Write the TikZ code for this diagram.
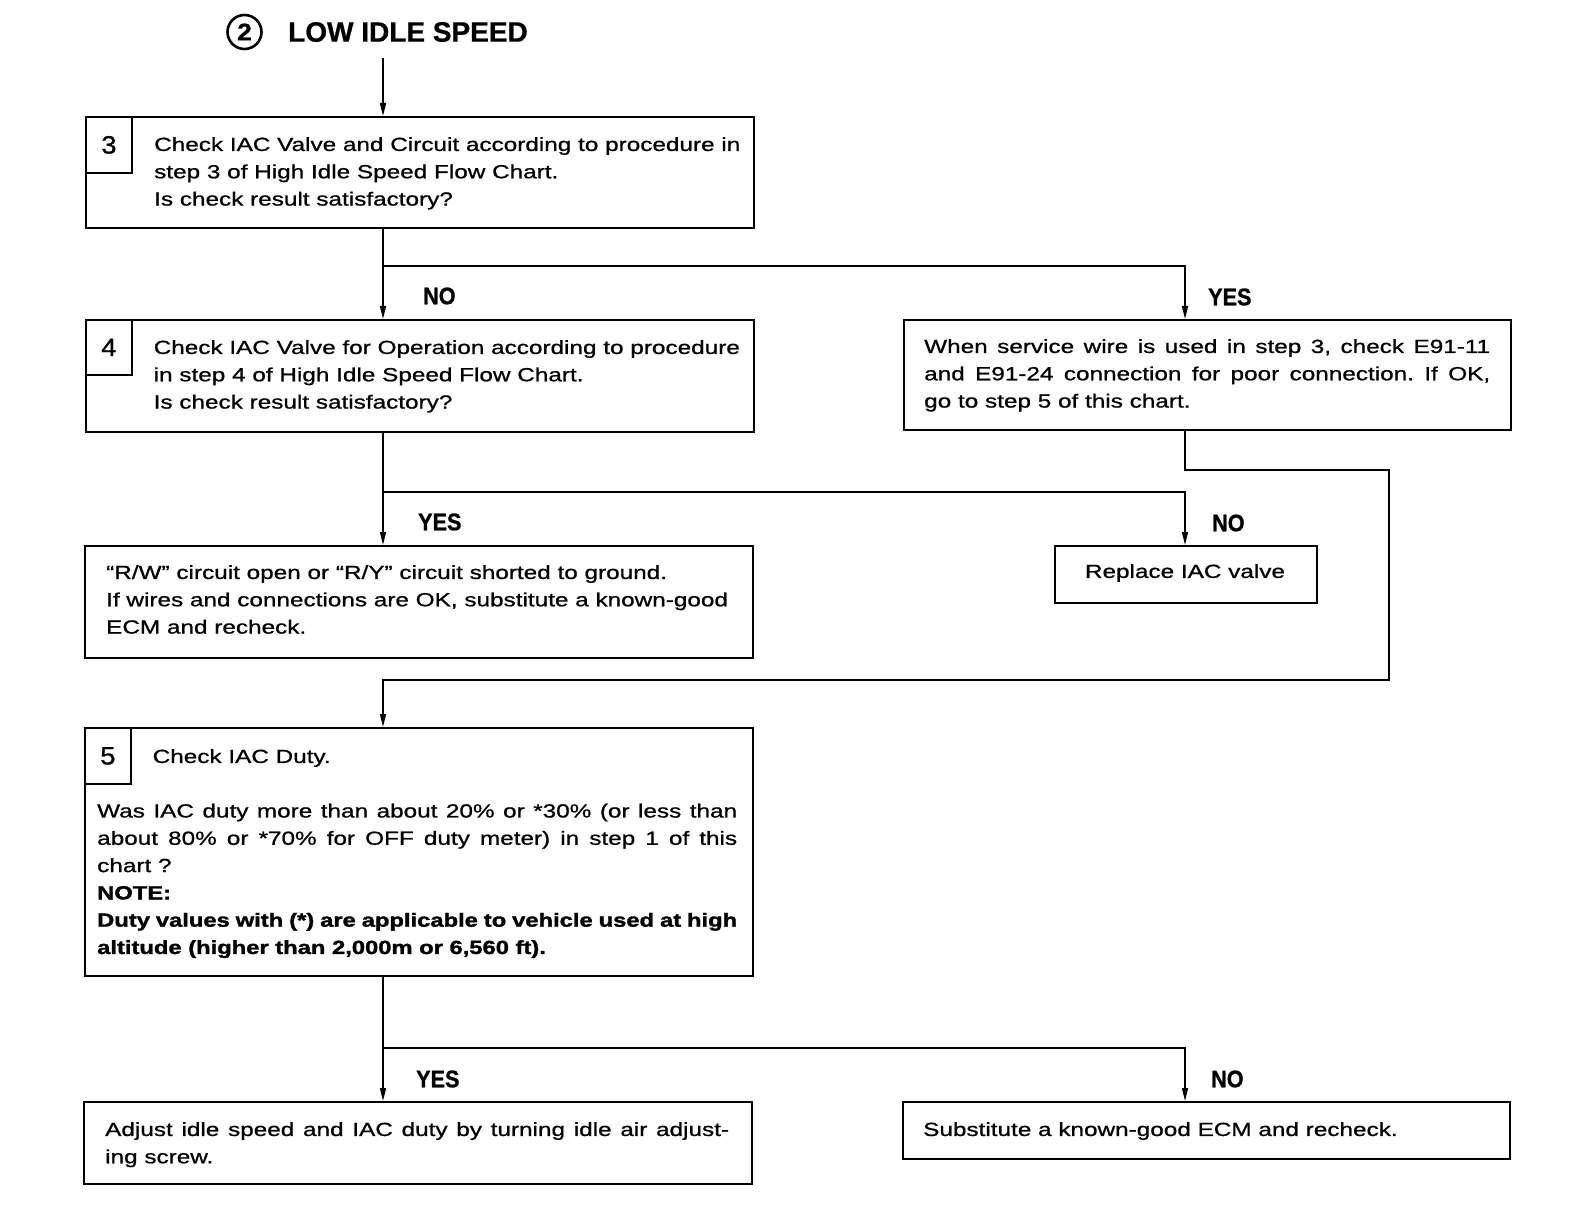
\documentclass[tikz,border=0pt]{standalone}
\usepackage{fontspec}
\setmainfont{Liberation Sans}
\newfontfamily\bodyf[FakeStretch=1.28,FakeBold=0.9,BoldFeatures={FakeStretch=1.25,FakeBold=1.6}]{Liberation Sans}
\newfontfamily\labf[FakeStretch=0.9,BoldFeatures={FakeBold=1}]{Liberation Sans}
\newfontfamily\numf[FakeStretch=1.1,FakeBold=1]{Liberation Sans}
\newfontfamily\titf[BoldFeatures={FakeBold=0.8}]{Liberation Sans}
\usetikzlibrary{arrows.meta}
\newcommand{\jl}[2]{\makebox[#1][s]{#2}}
\frenchspacing
\tikzset{
 box/.style={draw, line width=1.8pt, rectangle, inner sep=0pt, anchor=north west},
 numbox/.style={box, minimum width=46pt, minimum height=56pt, font=\numf\fontsize{25}{28}\selectfont},
 txt/.style={inner sep=0pt, anchor=north west, align=left, font=\bodyf\fontsize{19}{27.3}\selectfont},
 lab/.style={inner sep=0pt, anchor=west, font=\labf\bfseries\fontsize{24}{26}\selectfont},
 conn/.style={line width=1.6pt},
 arr/.style={conn, -{Triangle[width=6pt,length=13pt]}},
}
\begin{document}
\frenchspacing
\begin{tikzpicture}[x=1pt,y=-1pt]
\useasboundingbox[fill=white] (0,0) rectangle (1584,1214);
% title
\node[circle, draw, line width=2.6pt, minimum size=34pt, inner sep=0pt, font=\numf\bfseries\fontsize{24}{26}\selectfont] (c2) at (244.5,32) {2};
\node[font=\titf\bfseries\fontsize{28}{32}\selectfont, anchor=west, inner sep=0pt] (title) at (288,32) {LOW IDLE SPEED};
\coordinate (tx) at (383,0);
\coordinate (rx) at (1185,0);
\coordinate (t0) at (383,58);
% boxes
\node[box, minimum width=668pt, minimum height=111pt] (b3) at (85,116) {};
\node[numbox] (n3) at (85,116) {3};
\node[txt] (t3) at (154,137) {Check IAC Valve and Circuit according to procedure in\\ step 3 of High Idle Speed Flow Chart.\\ Is check result satisfactory?};

\node[box, minimum width=668pt, minimum height=112pt] (b4) at (85,319) {};
\node[numbox, minimum height=55pt] (n4) at (85,319) {4};
\node[txt] (t4) at (153.5,340) {Check IAC Valve for Operation according to procedure\\ in step 4 of High Idle Speed Flow Chart.\\ Is check result satisfactory?};

\node[box, minimum width=607pt, minimum height=110pt] (by) at (903,319) {};
\node[txt] (ty) at (924,339) {\jl{566pt}{When service wire is used in step 3, check E91-11}\\ \jl{566pt}{and E91-24 connection for poor connection. If OK,}\\ go to step 5 of this chart.};

\node[box, minimum width=668pt, minimum height=112pt] (brw) at (84,545) {};
\node[txt] (trw) at (106,565) {“R/W” circuit open or “R/Y” circuit shorted to ground.\\ If wires and connections are OK, substitute a known-good\\ ECM and recheck.};

\node[box, minimum width=262pt, minimum height=57pt] (brep) at (1054,545) {};
\node[txt, anchor=center] (trep) at (1185,573) {Replace IAC valve};

\node[box, minimum width=668pt, minimum height=248pt] (b5) at (84,727) {};
\node[numbox] (n5) at (84,727) {5};
\node[txt] (t5a) at (152.5,749) {Check IAC Duty.};
\node[txt] (t5b) at (97,803.5) {\jl{640pt}{Was IAC duty more than about 20\% or *30\% (or less than}\\ \jl{640pt}{about 80\% or *70\% for OFF duty meter) in step 1 of this}\\ chart ?\\ \textbf{NOTE:}\\ \textbf{\jl{640pt}{Duty values with (*) are applicable to vehicle used at high}}\\ \textbf{altitude (higher than 2,000m or 6,560 ft).}};

\node[box, minimum width=668pt, minimum height=82pt] (badj) at (83,1101) {};
\node[txt] (tadj) at (105,1122) {\jl{624pt}{Adjust idle speed and IAC duty by turning idle air adjust-}\\ ing screw.};

\node[box, minimum width=607pt, minimum height=57pt] (bsub) at (902,1101) {};
\node[txt] (tsub) at (923,1122) {Substitute a known-good ECM and recheck.};

% junctions
\coordinate (j1) at (383,266);
\coordinate (j2) at (383,492);
\coordinate (j3) at (383,1048);
\coordinate (lp1) at (1185,470);
\coordinate (lp2) at (1389,680);

% connectors
\draw[arr] (t0) -- (b3.north -| tx);
\draw[arr] (b3.south -| tx) -- (b4.north -| tx);
\draw[arr] (j1) -| (by.north -| rx);
\draw[arr] (b4.south -| tx) -- (brw.north -| tx);
\draw[arr] (j2) -| (brep.north -| rx);
\draw[arr] (by.south -| rx) -- (lp1) -| (lp2) -| (b5.north -| tx);
\draw[arr] (b5.south -| tx) -- (badj.north -| tx);
\draw[arr] (j3) -| (bsub.north -| rx);

% labels
\node[lab] (l1) at (423,296) {NO};
\node[lab] (l2) at (1208,297) {YES};
\node[lab] (l3) at (418,522) {YES};
\node[lab] (l4) at (1212,523) {NO};
\node[lab] (l5) at (416,1079) {YES};
\node[lab] (l6) at (1211,1079) {NO};
\end{tikzpicture}
\end{document}
